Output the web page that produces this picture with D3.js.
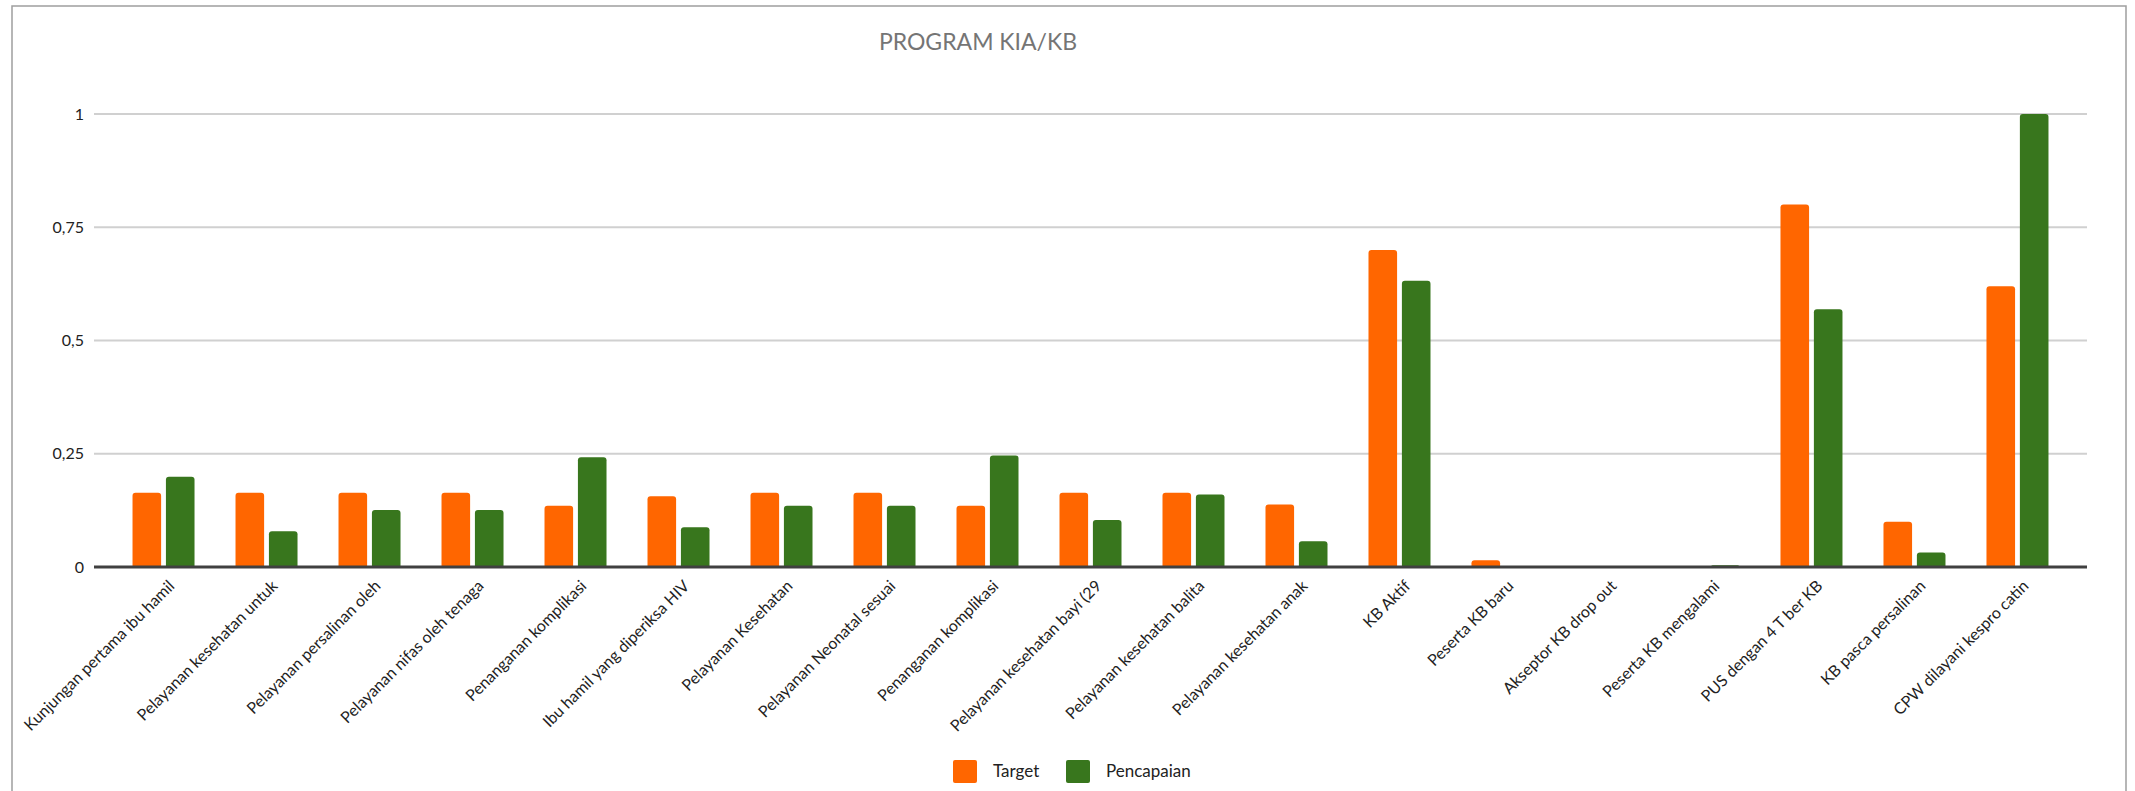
<!DOCTYPE html>
<html>
<head>
<meta charset="utf-8">
<script src="https://cdn.jsdelivr.net/npm/d3@7"></script>
<style>
  body { margin: 0; background: #fff; }
  text { font-family: Lato, "Open Sans", sans-serif; }
</style>
</head>
<body>
<div id="chart"></div>
<script>
// categories and series
const categories = [
  "Kunjungan pertama ibu hamil",
  "Pelayanan kesehatan untuk",
  "Pelayanan persalinan oleh",
  "Pelayanan nifas oleh tenaga",
  "Penanganan komplikasi",
  "Ibu hamil yang diperiksa HIV",
  "Pelayanan Kesehatan",
  "Pelayanan Neonatal sesuai",
  "Penanganan komplikasi ",
  "Pelayanan kesehatan bayi (29",
  "Pelayanan kesehatan balita",
  "Pelayanan kesehatan anak",
  "KB Aktif",
  "Peserta KB baru",
  "Akseptor KB drop out",
  "Peserta KB mengalami",
  "PUS dengan 4 T ber KB",
  "KB pasca persalinan",
  "CPW dilayani kespro catin"
];
const target = [0.164, 0.164, 0.164, 0.164, 0.135, 0.156, 0.164, 0.164, 0.135, 0.164, 0.164, 0.138, 0.70, 0.015, 0, 0, 0.80, 0.10, 0.62];
const pencapaian = [0.199, 0.079, 0.126, 0.126, 0.242, 0.088, 0.135, 0.135, 0.246, 0.104, 0.160, 0.057, 0.632, 0, 0, 0.004, 0.569, 0.032, 1.0];
const seriesNames = ["Target", "Pencapaian"];
const seriesColors = ["#ff6600", "#38761d"];
const yTicks = [0, 0.25, 0.5, 0.75, 1];
const yTickLabels = ["0", "0,25", "0,5", "0,75", "1"];

const W = 2135, H = 791;
const plot = { left: 94, right: 2087, top: 114, bottom: 567 };

const svg = d3.select("#chart").append("svg")
    .attr("width", W)
    .attr("height", H);

// chart frame (bottom edge is off the picture)
svg.append("rect")
    .attr("x", 12).attr("y", 6)
    .attr("width", 2114).attr("height", 800)
    .attr("fill", "#fff")
    .attr("stroke", "#9e9e9e")
    .attr("stroke-width", 1.5);

svg.append("text")
    .attr("x", 978).attr("y", 42)
    .attr("dy", "0.35em")
    .attr("text-anchor", "middle")
    .attr("fill", "#757575")
    .style("font-size", "23px")
    .text("PROGRAM KIA/KB");

const x = d3.scaleBand()
    .domain(d3.range(categories.length))
    .range([plot.left, plot.right])
    .paddingInner(0.398)
    .paddingOuter(0.374);

const xs = d3.scaleBand()
    .domain(seriesNames)
    .range([0, x.bandwidth()])
    .paddingInner(0.144);

const y = d3.scaleLinear()
    .domain([0, 1])
    .range([plot.bottom, plot.top]);

// gridlines + y labels
const yAxis = d3.axisLeft(y)
    .tickValues(yTicks)
    .tickSize(0)
    .tickPadding(10)
    .tickFormat((d, i) => yTickLabels[i]);

const gy = svg.append("g")
    .attr("transform", `translate(${plot.left},0)`)
    .call(yAxis);
gy.select(".domain").remove();
gy.selectAll("text")
    .attr("fill", "#222")
    .style("font-size", "16px")
    .style("font-family", "Lato, sans-serif");

svg.append("g").selectAll("line")
    .data(yTicks.filter(d => d > 0))
    .join("line")
    .attr("x1", plot.left).attr("x2", plot.right)
    .attr("y1", d => y(d)).attr("y2", d => y(d))
    .attr("stroke", "#d0d0d0")
    .attr("stroke-width", 2);

// bars with rounded tops
function barPath(x0, w, yTop, yBase, r) {
    const h = yBase - yTop;
    if (h <= 0) return "";
    r = Math.min(r, h, w / 2);
    return `M${x0},${yBase}V${yTop + r}Q${x0},${yTop} ${x0 + r},${yTop}` +
           `H${x0 + w - r}Q${x0 + w},${yTop} ${x0 + w},${yTop + r}V${yBase}Z`;
}

const rows = categories.map((c, i) => ({ i, values: [target[i], pencapaian[i]] }));

const groups = svg.append("g").selectAll("g")
    .data(rows)
    .join("g")
    .attr("transform", d => `translate(${x(d.i)},0)`);

groups.selectAll("path")
    .data(d => d.values.map((v, k) => ({ v, k })))
    .join("path")
    .attr("d", d => barPath(xs(seriesNames[d.k]), xs.bandwidth(), y(d.v), y(0), 3))
    .attr("fill", d => seriesColors[d.k]);

// zero axis line
svg.append("line")
    .attr("x1", plot.left).attr("x2", plot.right)
    .attr("y1", y(0)).attr("y2", y(0))
    .attr("stroke", "#404040")
    .attr("stroke-width", 3);

// rotated category labels
svg.append("g").selectAll("text")
    .data(categories)
    .join("text")
    .attr("transform", (d, i) => `translate(${x(i) + x.bandwidth() / 2 + 12},${plot.bottom + 20}) rotate(-45)`)
    .attr("text-anchor", "end")
    .attr("fill", "#222")
    .style("font-size", "16px")
    .text(d => d.trim());

// legend
const legend = svg.append("g");
const legendX = [953, 1066];
seriesNames.forEach((name, k) => {
    legend.append("rect")
        .attr("x", legendX[k]).attr("y", 760)
        .attr("width", 24).attr("height", 23)
        .attr("rx", 2)
        .attr("fill", seriesColors[k]);
    legend.append("text")
        .attr("x", legendX[k] + 40).attr("y", 771)
        .attr("dy", "0.35em")
        .attr("fill", "#222")
        .style("font-size", "17px")
        .text(name);
});
</script>
</body>
</html>
